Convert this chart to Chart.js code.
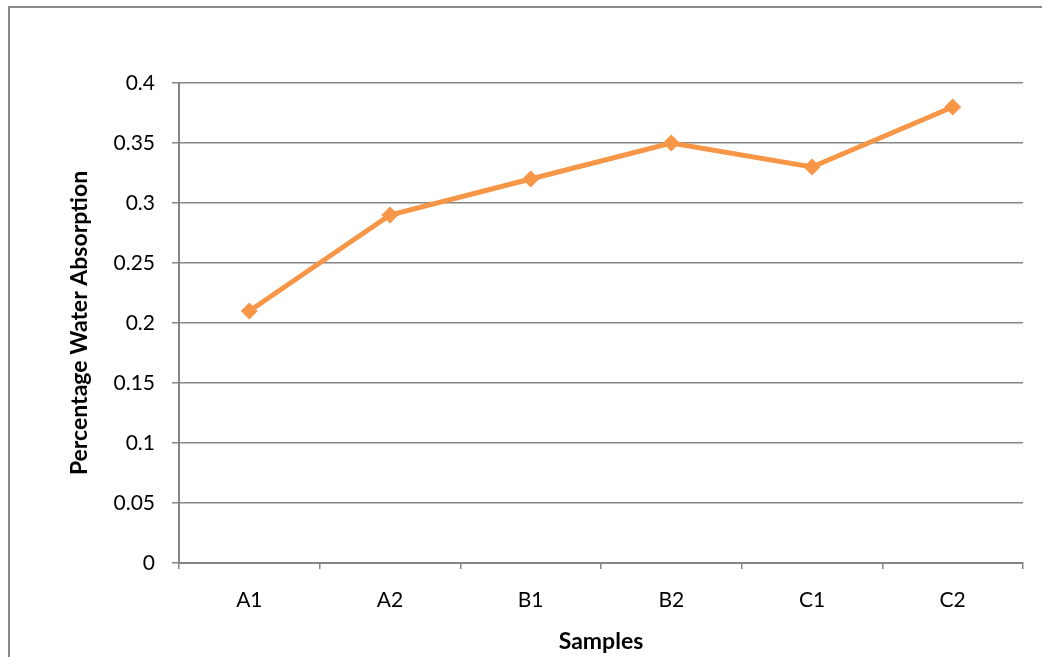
<!DOCTYPE html>
<html>
<head>
<meta charset="utf-8">
<script src="https://cdn.jsdelivr.net/npm/chart.js@4.4.0/dist/chart.umd.min.js"></script>
<style>
    html, body { margin: 0; padding: 0; background: #fff; overflow: hidden; }
    #wrap { position: relative; width: 1042px; height: 657px; }
    #frame {
        position: absolute; left: 8px; top: 6px; width: 1100px; height: 700px;
        border-top: 2px solid #8a8a8a; border-left: 2px solid #8a8a8a;
    }
    canvas { position: absolute; left: 0; top: 0; }
</style>
</head>
<body>
<div id="wrap">
    <div id="frame"></div>
    <canvas id="absorptionChart" width="1042" height="657"></canvas>
</div>
<script>
// Dados do gráfico
const samples = ['A1', 'A2', 'B1', 'B2', 'C1', 'C2'];
const absorption = [0.21, 0.29, 0.32, 0.35, 0.33, 0.38];
const yTicks = [0, 0.05, 0.1, 0.15, 0.2, 0.25, 0.3, 0.35, 0.4];

const GRID_COLOR = '#868686';
const LINE_COLOR = '#F79646';
const FONT = 'Lato, "Open Sans", sans-serif';

const ctx = document.getElementById('absorptionChart').getContext('2d');
const absorptionChart = new Chart(ctx, {
    type: 'line',
    data: {
        labels: samples,
        datasets: [{
            label: 'Percentage Water Absorption',
            data: absorption,
            borderColor: LINE_COLOR,
            backgroundColor: LINE_COLOR,
            borderWidth: 5,
            pointStyle: 'rectRot',
            pointRadius: 8.5,
            pointBorderWidth: 0,
            tension: 0,
            fill: false
        }]
    },
    options: {
        responsive: false,
        animation: false,
        layout: {
            padding: { left: 60, top: 83, right: 19, bottom: 0 }
        },
        plugins: {
            legend: { display: false },
            tooltip: { enabled: false }
        },
        scales: {
            x: {
                offset: true,
                grid: {
                    offset: true,
                    drawOnChartArea: false,
                    drawTicks: true,
                    tickLength: 6,
                    color: GRID_COLOR,
                    lineWidth: 1.5
                },
                border: { display: true, color: GRID_COLOR, width: 2 },
                ticks: {
                    color: '#000',
                    padding: 19,
                    maxRotation: 0,
                    font: { family: FONT, size: 21 }
                },
                title: {
                    display: true,
                    text: 'Samples',
                    color: '#000',
                    padding: { top: 0, bottom: 2 },
                    font: { family: FONT, size: 23, weight: 'bold' }
                },
                afterFit: (scale) => { scale.height = 94; }
            },
            y: {
                min: 0,
                max: 0.4,
                afterBuildTicks: (scale) => {
                    scale.ticks = yTicks.map(v => ({ value: v }));
                },
                grid: {
                    color: GRID_COLOR,
                    lineWidth: 1.5,
                    tickLength: 7
                },
                border: { display: true, color: GRID_COLOR, width: 2 },
                ticks: {
                    color: '#000',
                    padding: 17,
                    font: { family: FONT, size: 21 },
                    callback: (v) => String(v)
                },
                title: {
                    display: true,
                    text: 'Percentage Water Absorption',
                    color: '#000',
                    padding: { top: 6, bottom: 0 },
                    font: { family: FONT, size: 23, weight: 'bold' }
                },
                afterFit: (scale) => { scale.width = 119; }
            }
        }
    }
});
</script>
</body>
</html>
